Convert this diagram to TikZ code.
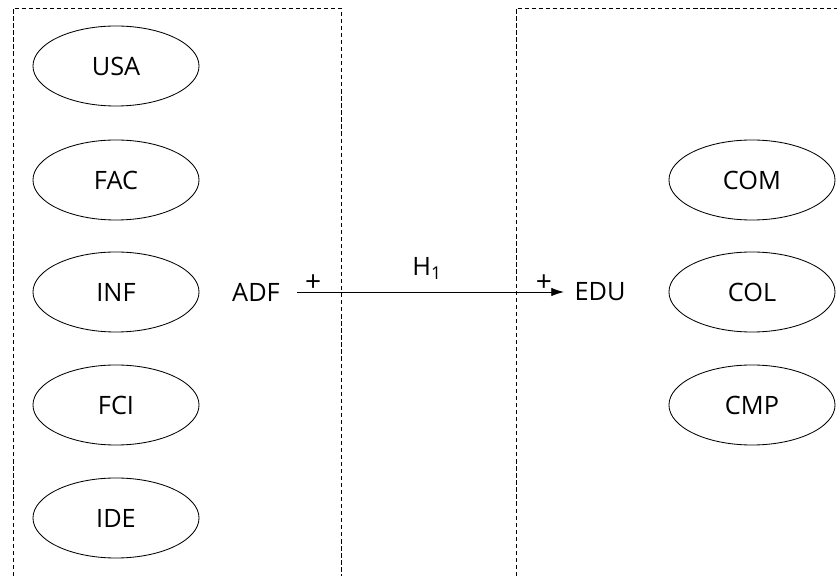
\documentclass[tikz,border=0pt]{standalone}
\usepackage{fontspec}
\setmainfont{Open Sans}
\usetikzlibrary{shapes.geometric,arrows.meta}
\begin{document}
\begin{tikzpicture}[x=0.025cm,y=-0.025cm,font=\fontsize{18}{22}\selectfont]

      \useasboundingbox (0,0) rectangle (837,576);

      % dashed frames
      \begin{scope}[dash pattern=on 3pt off 2pt, line width=0.6pt]
        \draw (13,576) -- (13,8) -- (341,8) -- (341,576);
        \draw (516,576) -- (516,8) -- (837,8);
      \end{scope}

      \begin{scope}[every node/.style={ellipse,draw,line width=0.6pt,minimum width=4.15cm,minimum height=2cm,inner sep=0pt}]
        \node (usa) at (116,66)  {USA};
        \node (fac) at (116,180) {FAC};
        \node (inf) at (116,292) {INF};
        \node (fci) at (116,405) {FCI};
        \node (ide) at (116,518) {IDE};
        \node (com) at (752,180) {COM};
        \node (col) at (752,292) {COL};
        \node (cmp) at (752,405) {CMP};
      \end{scope}

      \node (adf) at (256,292) {ADF};
      \node (edu) at (600,292) {EDU};

      \path (adf) edge[draw,-{Latex[length=9pt,width=6pt]},line width=0.6pt,shorten <=9pt,shorten >=4pt]
        node[pos=0.1,above,inner sep=0pt,font=\fontsize{20}{22}\selectfont] {+}
        node[pos=0.5,above=5pt] {H\textsubscript{1}}
        node[pos=0.91,above,inner sep=0pt,font=\fontsize{20}{22}\selectfont] {+} (edu);

    \end{tikzpicture}
\end{document}
